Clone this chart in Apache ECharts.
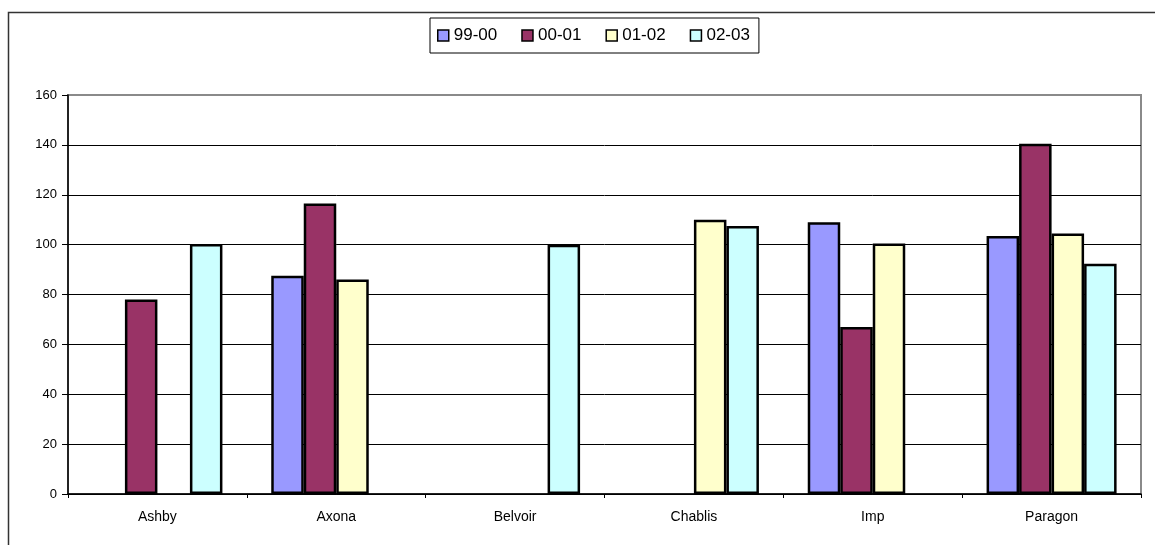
<!DOCTYPE html>
<html>
<head>
<meta charset="utf-8">
<script src="https://cdn.jsdelivr.net/npm/echarts@6/dist/echarts.min.js"></script>
<style>
  html, body { margin: 0; padding: 0; background: #fff; }
  #chart { width: 1155px; height: 545px; }
</style>
</head>
<body>
<div id="chart"></div>
<script>
// Clubs and yearly figures per season
const categories = ['Ashby', 'Axona', 'Belvoir', 'Chablis', 'Imp', 'Paragon'];
const seasons = ['99-00', '00-01', '01-02', '02-03'];
const s9900 = [null, 87.5, null, null, 109, 103.5];
const s0001 = [78, 116.5, null, null, 67, 140.5];
const s0102 = [null, 86, null, 110, 100.5, 104.5];
const s0203 = [100.3, null, 100, 107.5, null, 92.3];
const yTicks = { min: 0, max: 160, step: 20 };

const seriesValues = [s9900, s0001, s0102, s0203];
const colors = ['#9999FF', '#993366', '#FFFFCC', '#CCFFFF'];
const font = 'Liberation Sans, Arial, sans-serif';

const chart = echarts.init(document.getElementById('chart'), null, { renderer: 'canvas' });

chart.setOption({
  backgroundColor: '#ffffff',
  animation: false,
  textStyle: { fontFamily: font },
  graphic: [{
    type: 'rect',
    shape: { x: 8.5, y: 12.5, width: 1200, height: 600 },
    style: { fill: 'none', stroke: '#333333', lineWidth: 1.5 },
    silent: true
  }],
  legend: {
    data: seasons,
    left: 430,
    top: 18,
    padding: [9, 9, 9, 7],
    borderColor: '#000',
    borderWidth: 1,
    itemWidth: 11,
    itemHeight: 11,
    itemGap: 24,
    icon: 'rect',
    itemStyle: { borderColor: '#000', borderWidth: 1.5 },
    textStyle: { fontSize: 17, color: '#000', fontFamily: font }
  },
  grid: {
    left: 68, right: 14, top: 95, bottom: 51,
    show: true,
    borderColor: '#8a8a8a',
    borderWidth: 2,
    backgroundColor: '#fff'
  },
  xAxis: {
    type: 'category',
    data: categories,
    axisLine: { lineStyle: { color: '#000', width: 1.5 } },
    axisTick: { show: true, length: 4, lineStyle: { color: '#000' } },
    axisLabel: { color: '#000', fontSize: 14, margin: 16, fontFamily: font },
    splitLine: { show: false }
  },
  yAxis: {
    type: 'value',
    min: yTicks.min,
    max: yTicks.max,
    interval: yTicks.step,
    axisLine: { show: true, lineStyle: { color: '#000', width: 1.5 } },
    axisTick: { show: true, length: 6, lineStyle: { color: '#000' } },
    axisLabel: { color: '#000', fontSize: 13, margin: 11, fontFamily: font },
    splitLine: { show: true, showMaxLine: false, lineStyle: { color: '#000', width: 1 } }
  },
  series: seasons.map((name, i) => ({
    name: name,
    type: 'bar',
    data: seriesValues[i],
    barGap: '0%',
    barCategoryGap: '27.3%',
    itemStyle: { color: colors[i], borderColor: '#000', borderWidth: 2.5 }
  }))
});
</script>
</body>
</html>
